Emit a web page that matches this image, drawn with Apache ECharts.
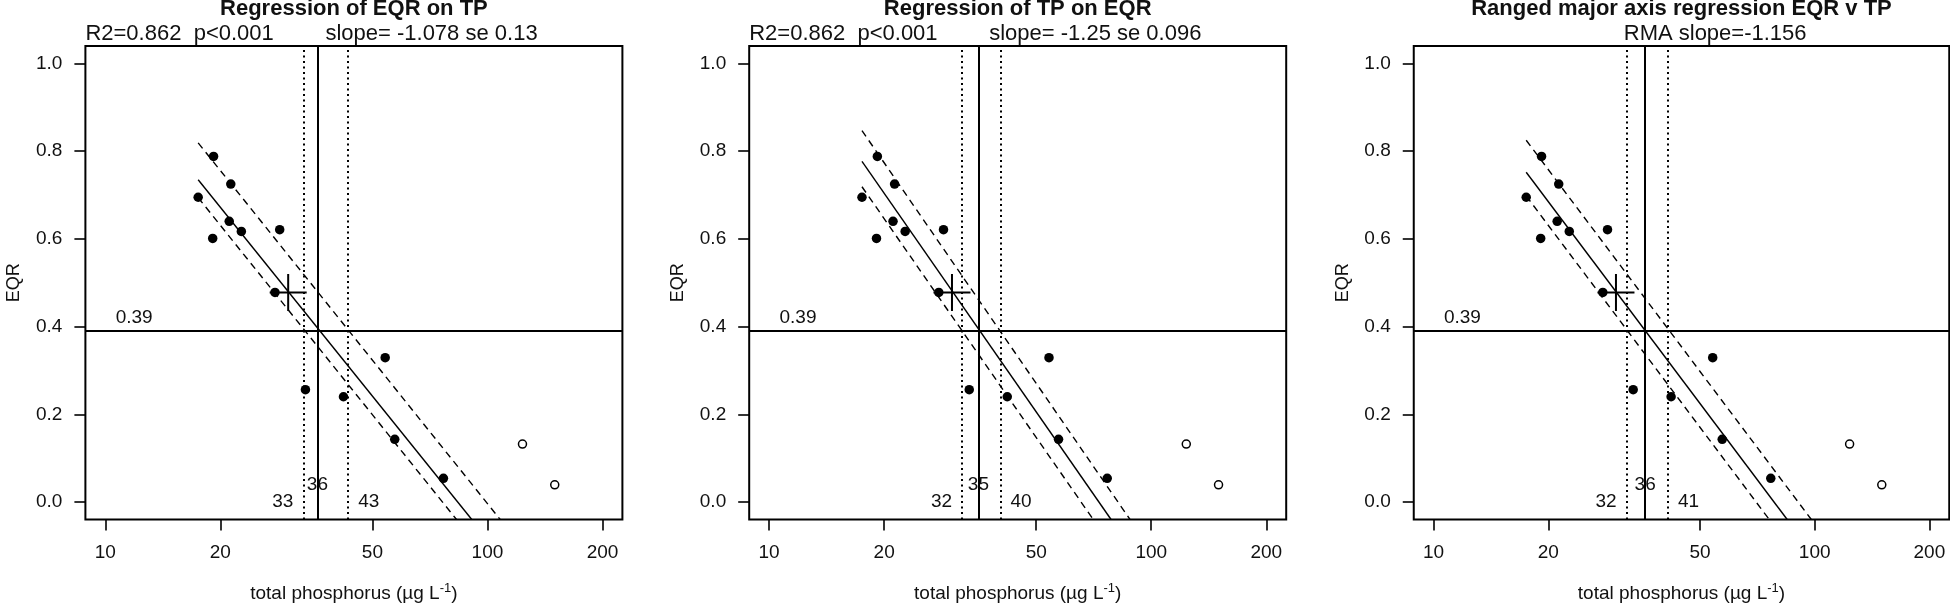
<!DOCTYPE html>
<html>
<head>
<meta charset="utf-8">
<script src="https://cdn.jsdelivr.net/npm/echarts@6/dist/echarts.min.js"></script>
<style>
  html, body { margin: 0; padding: 0; background: #fff; }
  #chart { width: 1950px; height: 608px; }
</style>
</head>
<body>
<div id="chart"></div>
<script>
const FONT = "'Liberation Sans', Arial, sans-serif";
const INK = "#111";

// --- DATA (same sites in all three panels) ---
const tpClosed = [17.5, 19.2, 19.1, 21.3, 21.1, 22.7, 28.6, 27.8, 33.4, 54.0, 42.0, 57.2, 76.7];
const eqrClosed = [0.695, 0.788, 0.601, 0.725, 0.640, 0.617, 0.621, 0.478, 0.256, 0.329, 0.240, 0.143, 0.054];
const tpOpen = [123.5, 150];
const eqrOpen = [0.132, 0.039];
const meanPoint = [30.1, 0.478];
const boundaryEQR = 0.39;
const boundaryLabelAt = [11.9, 0.42];

const xTicks = [10, 20, 50, 100, 200];
const yTicks = [0, 0.2, 0.4, 0.6, 0.8, 1.0];

const titles = ["Regression of EQR on TP", "Regression of TP on EQR", "Ranged major axis regression EQR v TP"];
const statsLeft = ["R2=0.862  p<0.001", "R2=0.862  p<0.001", ""];
const statsRight = ["slope= -1.078 se 0.13", "slope= -1.25 se 0.096", "RMA slope=-1.156"];

// fitted line and its band, end points [TP, EQR] per panel
const fitMid = [[[17.5, 0.735], [91, -0.04]], [[17.5, 0.777], [78.5, -0.04]], [[17.5, 0.752], [84.7, -0.04]]];
const fitUpper = [[[17.5, 0.819], [108, -0.04]], [[17.5, 0.847], [88, -0.04]], [[17.5, 0.825], [98, -0.04]]];
const fitLower = [[[17.5, 0.694], [83, -0.04]], [[17.5, 0.719], [70.5, -0.04]], [[17.5, 0.698], [76, -0.04]]];

// TP where the lines cross the boundary: lower, fit, upper
const cutTP = [[33, 35.9, 43.2], [32, 35.3, 40.3], [32.1, 35.9, 41.2]];
const cutLabels = [["33", "36", "43"], ["32", "35", "40"], ["32", "36", "41"]];

// --- LAYOUT ---
const gridLeft = [85.4, 749.2, 1413.75];
const gridWidth = [537, 537, 535.5];
const gridTop = 46;
const gridHeight = 475.7;
const rightStatsOffset = [240, 240, 210];

const txt = (size, bold) => ({
  fontFamily: FONT, fontSize: size, color: INK, fontWeight: bold ? "bold" : "normal"
});

const option = { animation: false, title: [], grid: [], xAxis: [], yAxis: [], series: [] };

[0, 1, 2].forEach((i) => {
  const left = gridLeft[i];
  option.title.push(
    { text: titles[i], left: left + gridWidth[i] / 2, top: -2, textAlign: "center", padding: 0, textStyle: txt(22, true) },
    { text: statsLeft[i], left: left, top: 23, padding: 0, textStyle: txt(22) },
    { text: statsRight[i], left: left + rightStatsOffset[i], top: 23, padding: 0, textStyle: txt(22) }
  );

  option.grid.push({
    left: left, top: gridTop, width: gridWidth[i], height: gridHeight,
    show: true, borderColor: "#000", borderWidth: 2, backgroundColor: "transparent"
  });

  option.xAxis.push({
    type: "log", gridIndex: i, min: 8.87, max: 225.5,
    axisLine: { show: false, onZero: false },
    splitLine: { show: false },
    axisTick: { show: true, length: 11, customValues: xTicks, lineStyle: { color: "#000", width: 1.6 } },
    axisLabel: Object.assign({ customValues: xTicks, margin: 24 }, txt(19)),
    name: "{a|total phosphorus (µg L}{s|-1}{a|)}",
    nameLocation: "middle", nameGap: 62,
    nameTextStyle: {
      rich: {
        a: Object.assign({ lineHeight: 24 }, txt(19)),
        s: Object.assign({ lineHeight: 13, verticalAlign: "top" }, txt(13))
      }
    }
  });

  option.yAxis.push({
    type: "value", gridIndex: i, min: -0.04, max: 1.04,
    axisLine: { show: false, onZero: false },
    splitLine: { show: false },
    axisTick: { show: true, length: 11, customValues: yTicks, lineStyle: { color: "#000", width: 1.6 } },
    axisLabel: Object.assign({ customValues: yTicks, margin: 23, formatter: (v) => v.toFixed(1) }, txt(19)),
    name: "EQR", nameLocation: "middle", nameGap: 62, nameRotate: 90,
    nameTextStyle: txt(18)
  });

  const ax = { xAxisIndex: i, yAxisIndex: i };
  const dotted = { color: "#000", width: 2, type: [2, 3.5] };
  const solid = { color: "#000", width: 2, type: "solid" };

  option.series.push(
    Object.assign({
      type: "scatter", symbol: "circle", symbolSize: 9.5,
      itemStyle: { color: "#000", opacity: 1 },
      data: tpClosed.map((x, k) => [x, eqrClosed[k]])
    }, ax),
    Object.assign({
      type: "scatter", symbol: "circle", symbolSize: 8,
      itemStyle: { color: "#fff", borderColor: "#000", borderWidth: 1.5, opacity: 1 },
      data: tpOpen.map((x, k) => [x, eqrOpen[k]])
    }, ax),
    Object.assign({
      type: "scatter", symbol: "path://M0,18H36M18,0V36", symbolSize: 37, symbolKeepAspect: true,
      itemStyle: { color: "none", borderColor: "#000", borderWidth: 2, opacity: 1 },
      data: [meanPoint]
    }, ax),
    Object.assign({
      type: "line", data: fitMid[i], showSymbol: false, symbol: "none",
      lineStyle: { color: "#000", width: 1.4 },
      markLine: {
        silent: true, symbol: ["none", "none"], label: { show: false },
        data: [
          { yAxis: boundaryEQR, lineStyle: solid },
          { xAxis: cutTP[i][0], lineStyle: dotted },
          { xAxis: cutTP[i][1], lineStyle: solid },
          { xAxis: cutTP[i][2], lineStyle: dotted }
        ]
      }
    }, ax),
    Object.assign({
      type: "line", data: fitUpper[i], showSymbol: false, symbol: "none",
      lineStyle: { color: "#000", width: 1.4, type: [7, 5] }
    }, ax),
    Object.assign({
      type: "line", data: fitLower[i], showSymbol: false, symbol: "none",
      lineStyle: { color: "#000", width: 1.4, type: [7, 5] }
    }, ax),
    Object.assign({
      type: "scatter", symbolSize: 0.1, itemStyle: { color: "transparent", opacity: 1 },
      label: Object.assign({ show: true, formatter: (p) => p.data.name }, txt(19)),
      data: [
        { name: cutLabels[i][0], value: [cutTP[i][0], 0], label: { position: "left", distance: 10 } },
        { name: cutLabels[i][1], value: [cutTP[i][1], 0.04], label: { position: "inside" } },
        { name: cutLabels[i][2], value: [cutTP[i][2], 0], label: { position: "right", distance: 10 } },
        { name: String(boundaryEQR), value: boundaryLabelAt, label: { position: "inside" } }
      ]
    }, ax)
  );
});

const chart = echarts.init(document.getElementById("chart"));
chart.setOption(option);
</script>
</body>
</html>
